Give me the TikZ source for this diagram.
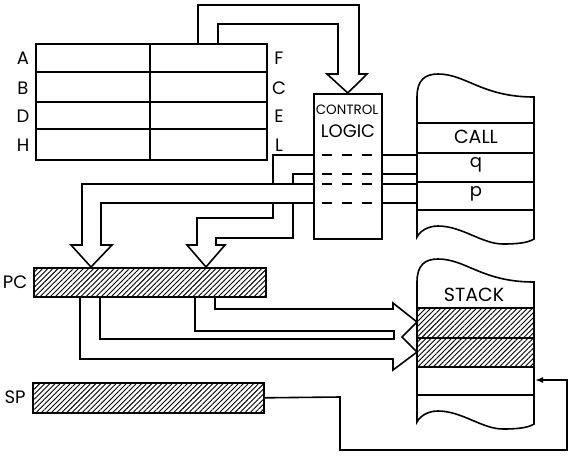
\documentclass[tikz,border=0pt]{standalone}
\usepackage{fontspec}
\setmainfont{Poppins}
\usetikzlibrary{arrows.meta,patterns.meta}

\tikzset{
  wire/.style={line width=1.6pt, line join=miter},
  box/.style={draw, line width=1.6pt, inner sep=0pt, anchor=north west},
  hatched/.style={pattern={Lines[angle=45,distance=3.6pt,line width=0.9pt]}},
  lbl/.style={font=\fontsize{18}{18}\selectfont, inner sep=0pt},
  biglbl/.style={font=\fontsize{19}{19}\selectfont, inner sep=0pt},
  gate/.style={line width=1.4pt, dash pattern=on 10pt off 10pt}
}

\begin{document}
\begin{tikzpicture}[x=1pt,y=-1pt]
\useasboundingbox (0,0) rectangle (570,459);

% Draw register file
\node[box, minimum width=231pt, minimum height=116pt] (regs) at (35,43) {};
\foreach \y in {72,102,129}
   \draw[wire] (35,\y) -- (266,\y);
\draw[wire] (150,43) -- (150,159);

% Label registers
\foreach \l/\r/\y [count=\i] in {A/F/58,B/C/88,D/E/116,H/L/145} {
   \node[lbl] (left\i) at (23,\y) {\l};
   \node[lbl] (right\i) at (279,\y) {\r};
}

% Draw control logic
\node[box, minimum width=68pt, minimum height=145pt] (ctrl) at (313,93) {};
\node[font=\fontsize{13.5}{13.5}\selectfont, inner sep=0pt] (ctrltop) at (347,110) {CONTROL};
\node[lbl] (ctrlbot) at (348,131) {LOGIC};
\foreach \y in {155,174,184,203}
   \draw[gate] (322,\y) -- (372,\y);

% Shade stack entries
\fill[hatched] (417,309) rectangle (534,367);

% Draw both memory stacks
\foreach \t in {97,282} {
   \begin{scope}[shift={(0,\t)}]
   \draw[wire] (417,0) .. controls (417,-17) and (425,-23) .. (438,-23)
      .. controls (466,-23) and (482,0) .. (534,0) -- (534,142)
      .. controls (528,146) and (516,147) .. (503,147)
      .. controls (482,147) and (462,129) .. (438,129)
      .. controls (428,129) and (420,134) .. (417,140) -- cycle;
   \foreach \r in {26,56,85,113}
      \draw[wire] (417,\r) -- (534,\r);
   \end{scope}
}

% Label stack entries
\node[biglbl] (call) at (476,137) {CALL};
\node[lbl] (q) at (476,165) {q};
\node[lbl] (p) at (476,194) {p};
\node[biglbl] (stack) at (474,295) {STACK};

% Draw PC and SP
\node[box, hatched, minimum width=232pt, minimum height=29pt] (pc) at (33,267) {};
\node[box, hatched, minimum width=231pt, minimum height=30pt] (sp) at (32,382) {};
\node[lbl] (pclbl) at (15,282) {PC};
\node[lbl] (splbl) at (15,397) {SP};

% Registers to control logic
\draw[wire] (198,43) -- (198,5) -- (359,5) -- (359,74) -- (367,74)
   -- (ctrl.north) -- (327,74) -- (338,74) -- (338,24) -- (218,24) -- (218,43);

% Stack entries through control logic
\foreach \y in {155,174,184,203}
   \draw[wire] (381,\y) -- (417,\y);

% p into PC
\draw[wire] (313,184) -- (82,184) -- (82,245) -- (71,245) -- (91,0 |- pc.north)
   -- (112,245) -- (101,245) -- (101,203) -- (313,203);

% q into PC
\draw[wire] (313,155) -- (273,155) -- (273,184);
\draw[wire] (273,203) -- (273,218) -- (197,218) -- (197,245) -- (187,245)
   -- (206,0 |- pc.north) -- (225,245) -- (216,245) -- (216,238) -- (293,238) -- (293,203);
\draw[wire] (293,184) -- (293,174) -- (313,174);

% PC onto stack
\draw[wire] (215,0 |- pc.south) -- (215,309) -- (393,309) -- (393,303) -- (417,322)
   -- (402,337) -- (417,352) -- (393,370) -- (393,359) -- (80,359) -- (80,0 |- pc.south);
\draw[wire] (195,0 |- pc.south) -- (195,331) -- (394,331) -- (394,339)
   -- (100,339) -- (100,0 |- pc.south);

% SP points into stack
\draw[wire, -{Latex[length=8pt,width=6pt]}] (sp.east) -- (340,397) -- (340,450)
   -- (567,450) -- (567,380) -- (535,380);

\end{tikzpicture}
\end{document}
